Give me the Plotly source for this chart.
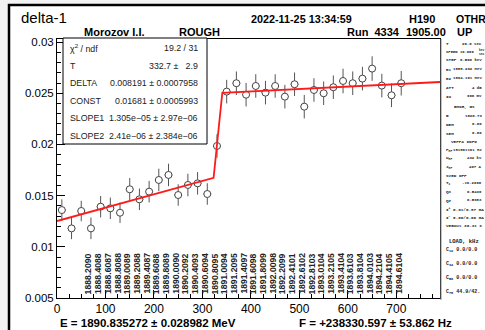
import plotly.graph_objects as go

# ---------------- data ----------------
x_vals = [10, 30, 50, 70, 90, 110, 130, 150, 170, 190, 210, 230, 250, 270, 290, 310,
          330, 350, 370, 390, 410, 430, 450, 470, 490, 510, 530, 550, 570, 590, 610,
          630, 650, 670, 690, 710]
y_vals = [0.01359, 0.01180, 0.01350, 0.01180, 0.01392, 0.01376, 0.01333, 0.01562,
          0.01464, 0.01539, 0.01653, 0.01702, 0.01506, 0.01604, 0.01620, 0.01516,
          0.01985, 0.02516, 0.02598, 0.02486, 0.02571, 0.02506, 0.02571, 0.02467,
          0.02588, 0.02369, 0.02532, 0.02500, 0.02559, 0.02620, 0.02598, 0.02643,
          0.02741, 0.02575, 0.02480, 0.02598]
y_err = [0.00105, 0.00105, 0.00100, 0.00105, 0.00105, 0.00105, 0.00100, 0.00110,
         0.00105, 0.00105, 0.00110, 0.00110, 0.00105, 0.00110, 0.00110, 0.00105,
         0.00115, 0.00115, 0.00115, 0.00115, 0.00115, 0.00115, 0.00115, 0.00115,
         0.00115, 0.00115, 0.00115, 0.00115, 0.00115, 0.00120, 0.00115, 0.00115,
         0.00120, 0.00115, 0.00115, 0.00120]
x_err = [8] * len(x_vals)

fit_x = [0, 323, 341, 790]
fit_y = [0.01252, 0.01674, 0.02505, 0.02610]

energy_labels = ["1888.2090", "1888.4088", "1888.6087", "1888.8088", "1889.0089",
                 "1889.2088", "1889.4087", "1889.6088", "1889.8089", "1890.0090",
                 "1890.2092", "1890.4093", "1890.6094", "1890.8095", "1891.0094",
                 "1891.2095", "1891.4097", "1891.6098", "1891.8099", "1892.0098",
                 "1892.2099", "1892.4101", "1892.6102", "1892.8103", "1893.0104",
                 "1893.2105", "1893.4104", "1893.6103", "1893.8104", "1894.0103",
                 "1894.2104", "1894.4105", "1894.6104"]

y_tickvals = [0.005, 0.01, 0.015, 0.02, 0.025, 0.03]
y_ticktext = ["0.005", "0.01", "0.015", "0.02", "0.025", "0.03"]
x_tickvals = [0, 100, 200, 300, 400, 500, 600, 700]

stats_names = ["\u03c7<sup>2</sup> / ndf", "T", "DELTA", "CONST", "SLOPE1", "SLOPE2"]
stats_values = ["19.2 / 31", "332.7 \u00b1\u00a0\u00a0\u00a02.9", "0.008191 \u00b1 0.0007958",
                "0.01681 \u00b1 0.0005993", "1.305e\u221205 \u00b1 2.97e\u221206",
                "2.41e\u221206 \u00b1 2.384e\u221206"]

side_labels = ["T", "SPEED", "STEP", "E1", "E2", "ATT", "IU", "BMKR, Gs", "B", "NEM", "SEM",
               "VEPP4 INFO", "F<sub>MP</sub>", "U<sub>MP</sub>", "J<sub>MP</sub>", "SVED OFF",
               "T<sub>c</sub>", "Qx", "Qz", "I<sup>+</sup> 0.91/0.87 mA",
               "I<sup>\u2212</sup> 0.00/0.00 mA", "vEBout 30.31 C", "LOAD, kHz",
               "C<sub>12</sub> 0.0/0.0", "C<sub>34</sub> 0.0/0.0", "C<sub>56</sub> 0.0/0.0",
               "C<sub>78</sub> 44.9/42."]
side_values = ["20.0 sec", "10.000", "0.500 keV", "1888.292 MeV", "1894.161 MeV",
               "4 dB", "900 mV", "", "1820.73", "0.00", "0.00", "", "181801161 Hz",
               "432 kV", "407 A", "", "-16.2600", "0.5436", "0.5983", "", "", "", "",
               "", "", "", ""]
speed_unit = "keV<br>sec"

# ---------------- layout geometry (pixels) ----------------
W, H = 485, 330
L, R, T, B = 57, 440, 39, 298


def pxx(x):
    return (x - L) / (R - L)


def pxy(y):
    return (B - y) / (B - T)


FONT = "Liberation Sans, Arial, sans-serif"
MONO = "Liberation Mono, DejaVu Sans Mono, monospace"

fig = go.Figure()

fig.add_trace(go.Scatter(
    x=x_vals, y=y_vals, mode="markers",
    marker=dict(symbol="circle", size=7, color="white", line=dict(color="#444", width=1)),
    error_y=dict(type="data", array=y_err, color="#555", thickness=1, width=0),
    error_x=dict(type="data", array=x_err, color="#555", thickness=1, width=0),
    showlegend=False, hoverinfo="x+y"))

fig.add_trace(go.Scatter(
    x=fit_x, y=fit_y, mode="lines", line=dict(color="#ff1a1a", width=1.8),
    showlegend=False))

ann = []
# rotated energy labels at data points
for xv, lab in zip(x_vals[3:], energy_labels):
    ann.append(dict(x=xv, y=0.0052, xref="x", yref="y", text="<b>%s</b>" % lab, textangle=-90,
                    showarrow=False, xanchor="center", yanchor="bottom", xshift=-2,
                    font=dict(family=FONT, size=8.6, color="#222")))


def text(px, py, s, size=11, bold=True, anchor="left", family=FONT, color="black"):
    ann.append(dict(x=pxx(px), y=pxy(py), xref="paper", yref="paper",
                    text=("<b>%s</b>" % s) if bold else s, showarrow=False,
                    xanchor=anchor, yanchor="middle",
                    font=dict(family=family, size=size, color=color)))


text(19, 18, "delta-1", size=15, bold=False)
text(82, 32, "Morozov I.I.")
text(177, 32, "ROUGH")
text(249, 19, "2022-11-25 13:34:59", size=10.8)
text(407, 19, "H190")
text(454, 19, "OTHR", size=10.5)
text(345, 32, "Run\u00a0\u00a04334")
text(404, 32, "1905.00")
text(455, 32, "UP")
text(58, 323, "E = 1890.835272 \u00b1 0.028982 MeV", size=11.5)
text(297, 323, "F = +238330.597 \u00b1 53.862 Hz", size=11.5)

# stats box text
stat_rows_y = [47.7, 65.7, 83.3, 100.7, 118.3, 136]
for yy, nm, vv in zip(stat_rows_y, stats_names, stats_values):
    text(68, yy, nm, size=8.8, bold=False, color="#222")
    text(200, yy, vv, size=8.8, bold=False, anchor="right", color="#222")

# sidebar
side_y = [44, 52, 60, 69, 78, 88, 96, 106, 116, 124, 133, 141, 150, 158, 167, 175,
          183, 192, 200, 209, 217, 225, 241, 250, 264, 278, 292]
centered = {"BMKR, Gs", "VEPP4 INFO", "LOAD, kHz"}
for yy, lab, val in zip(side_y, side_labels, side_values):
    if lab in centered:
        size = 5.5 if lab == "LOAD, kHz" else 4.3
        text(464, yy, lab, size=size, bold=True, anchor="center", family=MONO, color="#222")
    else:
        size = 5 if lab.startswith("C<sub>") else 4.3
        if lab == "SPEED":
            size = 3.9
        text(444, yy, lab, size=size, bold=True, family=MONO, color="#222")
        if val:
            if lab == "SPEED":
                text(476, yy, val, size=3.8, bold=True, anchor="right", family=MONO, color="#222")
                text(477, yy, speed_unit, size=3.0, bold=True, anchor="left", family=MONO, color="#222")
            else:
                text(484, yy, val, size=4.0, bold=True, anchor="right", family=MONO, color="#222")

shapes = [
    # outer window frame
    dict(type="rect", xref="paper", yref="paper", x0=pxx(9), x1=pxx(495), y0=pxy(340), y1=pxy(5),
         line=dict(color="black", width=2.5), fillcolor="white", layer="below"),
    # stats box
    dict(type="rect", xref="paper", yref="paper", x0=pxx(63), x1=pxx(207), y0=pxy(144), y1=pxy(38),
         line=dict(color="black", width=1), fillcolor="white", layer="above"),
    # sidebar separator
    dict(type="line", xref="paper", yref="paper", x0=pxx(441), x1=pxx(441), y0=pxy(300), y1=pxy(39),
         line=dict(color="#888", width=1)),
]

fig.update_layout(
    width=W, height=H,
    margin=dict(l=L, r=W - R, t=T, b=H - B, pad=0),
    paper_bgcolor="#f3f3f3", plot_bgcolor="white",
    font=dict(family=FONT, color="black"),
    annotations=ann, shapes=shapes,
    xaxis=dict(range=[0, 790], tickvals=x_tickvals, ticks="inside", ticklen=8,
               tickcolor="black", showline=True, linecolor="black", linewidth=1,
               mirror=True, showgrid=False, zeroline=False,
               tickfont=dict(size=12, color="black"),
               minor=dict(dtick=25, ticks="inside", ticklen=4, tickcolor="black")),
    yaxis=dict(range=[0.005, 0.0303], tickvals=y_tickvals, ticktext=y_ticktext,
               ticks="inside", ticklen=8, tickcolor="black", showline=True,
               linecolor="black", linewidth=1, mirror=True, showgrid=False,
               zeroline=False, tickfont=dict(size=11.5, color="black"),
               minor=dict(dtick=0.001, tick0=0.005, ticks="inside", ticklen=4,
                          tickcolor="black")),
)

fig.write_html("out.html", config={"displayModeBar": False},
               post_script="document.body.style.margin='0';document.body.style.overflow='hidden';")
